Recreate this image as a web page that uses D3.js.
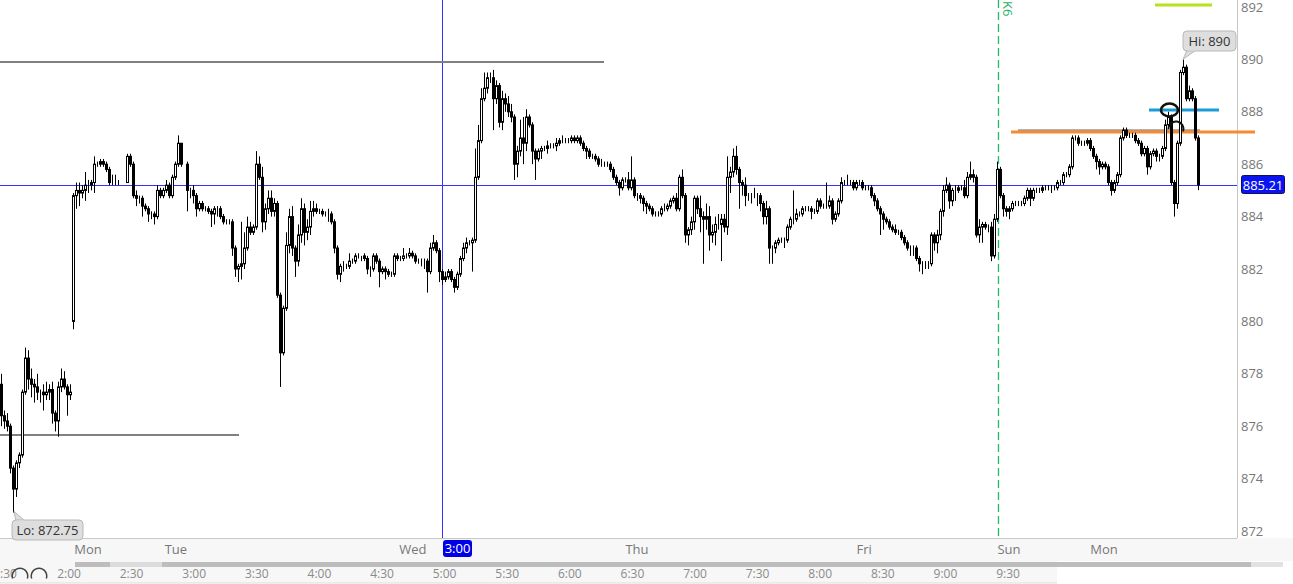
<!DOCTYPE html>
<html>
<head>
<meta charset="utf-8">
<script src="https://cdn.jsdelivr.net/npm/d3@7/dist/d3.min.js"></script>
<style>
  body { margin: 0; background: #fff; }
  svg { display: block; font-family: "Open Sans", sans-serif; }
</style>
</head>
<body>
<svg></svg>
<script>
// closes, one row per 10 bars (open = previous close unless a gap open is given)
const closes = [
  876.4, 876.2, 876.0, 874.4, 873.6, 874.6, 874.9, 877.3, 878.6, 877.8,
  877.6, 877.5, 877.3, 877.3, 877.2, 877.3, 877.4, 876.5, 876.2, 877.5,
  877.8, 877.5, 877.2, 877.3, 884.8, 885.0, 884.9, 885.0, 885.2, 885.2,
  885.3, 886.0, 886.0, 886.1, 886.0, 885.8, 885.3, 885.3, 885.3, 885.3,
  885.3, 885.3, 886.3, 886.0, 884.8, 884.7, 884.7, 884.4, 884.3, 884.1,
  884.1, 884.0, 885.0, 884.8, 885.0, 885.2, 884.8, 885.5, 886.0, 886.8,
  886.0, 886.0, 885.0, 885.0, 884.8, 884.3, 884.5, 884.3, 884.3, 884.2,
  884.1, 884.3, 884.3, 884.0, 883.8, 883.8, 883.8, 882.8, 882.0, 882.1,
  882.2, 882.8, 883.6, 883.4, 883.6, 886.0, 885.5, 883.8, 884.3, 884.7,
  884.2, 884.5, 881.0, 878.8, 880.5, 882.9, 884.0, 882.8, 882.3, 883.3,
  884.3, 883.4, 883.6, 884.2, 884.3, 884.2, 884.2, 884.1, 884.1, 884.1,
  883.8, 882.8, 881.8, 882.1, 882.1, 882.1, 882.3, 882.3, 882.5, 882.5,
  882.5, 882.4, 882.0, 882.0, 882.5, 882.3, 881.9, 882.0, 881.9, 881.8,
  881.8, 882.5, 882.4, 882.4, 882.5, 882.5, 882.6, 882.5, 882.3, 882.3,
  882.3, 882.3, 881.9, 882.8, 883.0, 882.7, 881.9, 881.6, 881.7, 881.9,
  881.6, 881.3, 881.8, 882.4, 882.8, 883.0, 883.0, 883.1, 885.5, 886.9,
  888.5, 888.9, 889.3, 889.3, 888.5, 889.0, 887.6, 888.5, 888.3, 888.0,
  887.8, 886.0, 886.5, 887.0, 886.8, 887.8, 887.5, 886.5, 886.2, 886.5,
  886.6, 886.6, 886.7, 886.7, 886.7, 886.8, 886.9, 886.9, 886.9, 886.9,
  887.0, 886.9, 887.0, 886.8, 886.6, 886.5, 886.3, 886.3, 886.2, 886.0,
  886.0, 886.0, 886.0, 885.8, 885.5, 885.3, 885.1, 885.4, 885.4, 885.1,
  885.4, 884.8, 884.8, 884.7, 884.5, 884.4, 884.3, 884.1, 884.1, 884.1,
  884.3, 884.3, 884.4, 884.6, 884.7, 884.3, 885.5, 884.8, 883.3, 883.5,
  883.8, 884.7, 884.3, 884.0, 883.9, 884.0, 883.3, 883.4, 883.7, 883.7,
  883.9, 883.6, 885.5, 885.7, 886.3, 885.8, 885.3, 885.2, 884.8, 884.8,
  884.8, 884.8, 884.8, 884.5, 884.0, 884.3, 882.8, 882.8, 883.0, 883.1,
  883.1, 883.1, 883.6, 883.9, 883.9, 884.1, 884.1, 884.3, 884.3, 884.3,
  884.2, 884.2, 884.6, 884.4, 884.4, 884.4, 884.6, 883.9, 884.1, 884.6,
  885.3, 885.3, 885.3, 885.3, 885.1, 885.3, 885.3, 885.1, 885.1, 885.1,
  884.8, 884.6, 884.3, 884.1, 883.9, 883.8, 883.6, 883.5, 883.4, 883.4,
  883.2, 883.0, 882.8, 882.8, 882.8, 882.4, 882.2, 882.2, 882.2, 882.2,
  883.3, 883.0, 883.3, 884.2, 885.0, 885.2, 884.6, 885.0, 885.0, 885.1,
  885.1, 884.8, 885.5, 885.6, 885.5, 883.3, 883.6, 883.7, 883.6, 883.6,
  882.5, 883.9, 885.8, 884.8, 884.3, 884.2, 884.3, 884.5, 884.5, 884.5,
  884.5, 884.7, 885.0, 884.7, 885.0, 885.0, 885.0, 885.1, 885.1, 885.1,
  885.1, 885.1, 885.3, 885.3, 885.6, 885.6, 885.9, 887.0, 887.0, 886.8,
  886.8, 886.8, 886.9, 886.6, 886.3, 886.1, 885.9, 886.0, 885.9, 885.3,
  885.0, 885.3, 885.6, 887.0, 887.3, 887.1, 887.1, 887.1, 886.9, 886.8,
  886.4, 886.6, 885.9, 886.4, 886.5, 886.3, 886.3, 886.6, 887.5, 887.8,
  885.3, 884.5, 886.8, 889.5, 889.7, 888.5, 888.8, 888.5, 887.0, 885.21
];

// upper / lower wick beyond the body, in tenths of a point
const wickUp = [
  4,2,3,1,1,1,1,1,4,3,  4,2,5,1,3,4,2,3,1,2,  4,3,1,3,1,3,3,2,5,2,  1,3,1,1,1,1,1,3,3,1,
  0,0,1,1,1,2,1,1,1,1,  1,1,2,1,1,2,1,1,1,3,  0,0,1,1,2,1,1,1,1,1,  1,1,1,1,1,1,1,1,1,1,
  16,6,4,2,1,5,3,4,2,3, 3,2,1,1,1,5,3,4,1,4,  4,2,3,4,3,2,1,1,1,2,  1,1,1,1,2,1,3,1,1,1,
  0,1,1,1,1,1,1,1,1,1,  1,1,1,1,3,1,2,1,1,1,  1,1,1,2,3,1,1,1,2,1,  1,1,1,1,2,2,1,1,11,6,
  4,6,2,2,3,2,1,3,2,3,  3,1,2,7,8,3,1,1,1,1,  1,1,2,1,1,2,1,2,1,1,  1,1,1,1,1,1,1,1,1,1,
  2,1,1,1,1,1,1,1,1,3,  9,1,1,1,1,1,1,1,1,1,  1,2,1,1,1,2,1,3,1,1,  2,1,1,5,2,5,4,3,3,4,
  2,2,8,2,3,4,1,1,3,1,  1,3,1,1,1,3,1,1,1,1,  1,1,1,1,11,2,1,1,1,1, 1,1,1,1,1,9,2,1,1,1,
  2,1,3,1,1,1,1,1,1,1,  1,1,1,1,1,1,1,1,2,1,  1,1,1,1,1,1,1,1,1,1,  1,1,2,1,2,3,1,1,2,1,
  1,3,2,5,2,1,3,1,1,1,  2,2,3,1,1,1,1,1,1,1,  1,1,1,1,1,1,1,1,1,1,  1,1,1,1,1,1,1,1,1,1,
  1,1,1,1,1,1,1,1,1,1,  1,1,1,1,1,1,1,1,1,1,  1,1,1,1,1,1,1,1,2,2,  1,1,1,1,3,1,2,1,1,1
];
const wickDn = [
  4,3,2,2,9,3,2,1,1,4,  5,6,3,4,6,2,3,4,4,6,  2,1,8,2,3,5,5,2,4,3,  2,4,1,1,1,1,1,1,1,1,
  0,0,0,1,1,3,2,4,1,3,  2,3,1,1,1,1,1,1,1,1,  1,0,8,3,3,3,1,1,1,1,  5,4,3,1,1,1,1,3,3,5,
  5,2,1,1,1,1,1,4,3,2,  2,2,1,13,1,1,3,3,6,2, 3,5,3,3,2,1,1,1,1,3,  1,2,2,3,2,1,1,1,1,1,
  2,1,2,3,1,1,6,1,3,1,  1,1,1,1,1,1,1,1,1,1,  2,3,8,1,1,1,4,2,1,1,  1,2,1,1,1,2,1,11,1,1,
  1,1,2,2,12,2,2,3,3,2, 2,6,5,2,8,3,1,5,8,1,  3,1,2,1,1,2,1,1,1,1,  1,1,1,1,1,3,1,1,1,1,
  1,1,1,1,1,1,3,1,1,1,  1,1,2,2,3,3,1,1,1,1,  1,1,1,1,1,1,1,1,3,4,  2,3,2,6,17,4,6,3,5,2,
  14,2,3,6,2,2,10,4,4,2, 3,1,4,3,3,3,6,6,2,1, 1,3,1,1,2,1,1,1,1,1,  3,1,1,1,1,1,1,2,1,1,
  1,1,1,1,1,1,1,1,1,1,  1,2,1,8,4,1,1,1,1,1,  1,1,1,3,3,1,3,4,2,2,  1,3,4,2,2,1,3,2,4,1,
  1,1,1,1,2,1,3,6,1,2,  2,1,1,1,3,2,3,1,1,1,  1,1,1,3,1,1,1,1,1,1,  2,1,1,1,1,1,1,1,1,1,
  1,1,1,1,1,3,3,1,1,1,  2,1,1,1,1,1,1,1,1,1,  1,1,3,1,1,2,2,1,1,1,  1,5,2,1,1,1,1,1,1,2
];

// session gaps: bar index -> open price
const gapOpens = {0: 877.6, 24: 880.0};

const priceTicks = [872, 874, 876, 878, 880, 882, 884, 886, 888, 890, 892];
const dayLabels = ["Mon", "Tue", "Wed", "Thu", "Fri", "Sun", "Mon"];
const dayBars = [29, 58.3, 137.3, 212, 287.7, 336, 367.7];
const navMinutes = [120, 150, 180, 210, 240, 270, 300, 330, 360, 390, 420, 450, 480, 510, 540, 570];

const lastPrice = 885.21;
const hiPrice = 890, loPrice = 872.75;
const crossBar = 147;      // vertical crosshair
const sessionBar = 332.3;  // green dashed session line

// drawn horizontal levels
const levels = [
  {price: 889.9, x0: 0, x1: 604, color: "#808080", w: 2},
  {price: 875.66, x0: 0, x1: 239, color: "#808080", w: 2},
  {price: 887.3, x0: 1018, x1: 1200, color: "#9a9a9a", w: 2},
  {price: 887.23, x0: 1011, x1: 1255, color: "#f58a2e", w: 3},
  {price: 888.07, x0: 1149, x1: 1219, color: "#1b9bd7", w: 3},
  {price: 892.08, x0: 1155, x1: 1212, color: "#b6e21e", w: 3}
];

const width = 1293, height = 584;
const plotRight = 1237, plotBottom = 538;

const svg = d3.select("svg").attr("width", width).attr("height", height);

const x = d3.scaleLinear().domain([0, closes.length - 1]).range([1, 1198]);
const y = d3.scaleLinear().domain([872, 892]).range([531, 7]);
const navX = d3.scaleLinear().domain([90, 570]).range([6.4, 1008]);

const bars = closes.map((c, i) => {
  const o = gapOpens[i] !== undefined ? gapOpens[i] : closes[i - 1];
  return {
    i, o, c,
    h: Math.max(o, c) + wickUp[i] / 10,
    l: Math.min(o, c) - wickDn[i] / 10
  };
});

// bottom day axis band
svg.append("rect").attr("x", 0).attr("y", plotBottom).attr("width", width).attr("height", 23)
  .attr("fill", "#f7f7f7");
// navigator band
svg.append("rect").attr("x", 0).attr("y", 561).attr("width", 1057).attr("height", 22)
  .attr("fill", "#f7f7f7");
svg.append("line").attr("x1", 0).attr("x2", 1057).attr("y1", 583).attr("y2", 583)
  .attr("stroke", "#dddddd");
svg.append("rect").attr("x", 75).attr("y", 562).attr("width", 1176).attr("height", 5).attr("fill", "#bdbdbd");
svg.append("rect").attr("x", 110).attr("y", 562).attr("width", 52).attr("height", 5).attr("fill", "#dcdcdc");
svg.append("rect").attr("x", 1251).attr("y", 562).attr("width", 32).attr("height", 5).attr("fill", "#e2e2e2");

// plot borders
svg.append("line").attr("x1", 0).attr("x2", plotRight).attr("y1", plotBottom + 0.5).attr("y2", plotBottom + 0.5)
  .attr("stroke", "#c8c8c8");
svg.append("line").attr("x1", plotRight + 0.5).attr("x2", plotRight + 0.5).attr("y1", 0).attr("y2", plotBottom)
  .attr("stroke", "#c8c8c8");

// price axis
const yAxis = d3.axisRight(y).tickValues(priceTicks).tickSize(0).tickPadding(4).tickFormat(d3.format("d"));
const ya = svg.append("g").attr("transform", `translate(${plotRight},0)`).call(yAxis);
ya.select(".domain").remove();
ya.selectAll("text").attr("fill", "#777").style("font-size", "13px").style("font-family", "'Open Sans', sans-serif");

// day labels
svg.selectAll(".day").data(dayLabels).enter().append("text")
  .attr("x", (d, i) => x(dayBars[i]))
  .attr("y", 554)
  .attr("text-anchor", "middle")
  .attr("fill", "#777")
  .style("font-size", "13px")
  .text(d => d);

// navigator time labels
svg.selectAll(".nav").data(navMinutes).enter().append("text")
  .attr("x", m => navX(m))
  .attr("y", 578)
  .attr("text-anchor", "middle")
  .attr("fill", "#8a8a8a")
  .style("font-size", "12px")
  .text(m => `${Math.floor(m / 60)}:${m % 60 === 0 ? "00" : "30"}`);

// left end of the navigator: clipped ":30" label and two round icons
svg.append("text").attr("x", 0).attr("y", 578).attr("fill", "#8a8a8a")
  .style("font-size", "12px").text(":30");
svg.append("path").attr("d", d3.arc()({innerRadius: 7, outerRadius: 8.5, startAngle: -1.9, endAngle: 1.9}))
  .attr("transform", "translate(20,576)").attr("fill", "#444");
svg.append("path").attr("d", d3.arc()({innerRadius: 7, outerRadius: 8.5, startAngle: -1.9, endAngle: 1.9}))
  .attr("transform", "translate(39,576)").attr("fill", "#444");

// crosshair
svg.append("line").attr("x1", 0).attr("x2", plotRight).attr("y1", Math.round(y(lastPrice)) + 0.5).attr("y2", Math.round(y(lastPrice)) + 0.5)
  .attr("stroke", "#3434ff").attr("stroke-width", 1);
svg.append("line").attr("x1", Math.round(x(crossBar)) + 0.5).attr("x2", Math.round(x(crossBar)) + 0.5).attr("y1", 0).attr("y2", plotBottom)
  .attr("stroke", "#3434ff").attr("stroke-width", 1);

// session line + label
const sx = Math.round(x(sessionBar)) + 0.5;
svg.append("line").attr("x1", sx).attr("x2", sx).attr("y1", 0).attr("y2", plotBottom)
  .attr("stroke", "#22b86a").attr("stroke-width", 1.3).attr("stroke-dasharray", "8,4");
svg.append("text").attr("transform", `translate(${sx + 4},1) rotate(90)`)
  .attr("fill", "#2db36b").style("font-size", "13px").text("K6");

// levels
svg.selectAll(".level").data(levels).enter().append("line")
  .attr("x1", d => d.x0).attr("x2", d => d.x1)
  .attr("y1", d => y(d.price)).attr("y2", d => y(d.price))
  .attr("stroke", d => d.color).attr("stroke-width", d => d.w);

// candles
const g = svg.append("g");
const candle = g.selectAll("g.c").data(bars).enter().append("g");
candle.append("line")
  .attr("x1", d => Math.round(x(d.i)) + 0.5)
  .attr("x2", d => Math.round(x(d.i)) + 0.5)
  .attr("y1", d => y(d.h))
  .attr("y2", d => y(d.l))
  .attr("stroke", "#000").attr("stroke-width", 1);
candle.append("rect")
  .attr("x", d => Math.round(x(d.i)) - 0.5)
  .attr("width", 2)
  .attr("y", d => y(Math.max(d.o, d.c)))
  .attr("height", d => Math.abs(y(d.o) - y(d.c)))
  .attr("fill", d => d.c >= d.o ? "#fff" : "#000")
  .attr("stroke", "#000").attr("stroke-width", 1);

// drawing circles near the high
svg.append("ellipse").attr("cx", 1169.5).attr("cy", 110).attr("rx", 8.5).attr("ry", 6.5)
  .attr("fill", "none").attr("stroke", "#111").attr("stroke-width", 2.5);
svg.append("path").attr("d", d3.arc()({innerRadius: 6.5, outerRadius: 8.5, startAngle: -1.6, endAngle: 1.9}))
  .attr("transform", "translate(1176,129)").attr("fill", "#111");

// Hi / Lo call-outs
function callout(bx, by, bw, bh, tipX, tipY, baseX, label) {
  const up = tipY < by;
  svg.append("path")
    .attr("d", `M${baseX - 4},${by + (up ? 1 : bh - 1)} L${tipX},${tipY} L${baseX + 5},${by + (up ? 1 : bh - 1)}`)
    .attr("fill", "#dedede").attr("stroke", "#b8b8b8");
  svg.append("rect").attr("x", bx).attr("y", by).attr("width", bw).attr("height", bh).attr("rx", 4)
    .attr("fill", "#dedede").attr("stroke", "#b8b8b8");
  svg.append("path")
    .attr("d", `M${baseX - 3},${by + (up ? 1.5 : bh - 1.5)} L${baseX + 4},${by + (up ? 1.5 : bh - 1.5)}`)
    .attr("stroke", "#dedede").attr("stroke-width", 2);
  svg.append("text").attr("x", bx + bw / 2).attr("y", by + bh / 2 + 4.5).attr("text-anchor", "middle")
    .attr("fill", "#333").style("font-size", "13px").text(label);
}
const hiBar = bars.reduce((a, b) => b.h > a.h ? b : a);
const loBar = bars.reduce((a, b) => b.l < a.l ? b : a);
callout(1183, 31, 53, 20, Math.round(x(hiBar.i)), y(hiPrice), 1191, `Hi: ${hiPrice}`);
callout(12, 520, 71, 20, Math.round(x(loBar.i)) + 1, y(loPrice), 20, `Lo: ${loPrice}`);

// last price tag
svg.append("rect").attr("x", 1241.5).attr("y", Math.round(y(lastPrice)) - 9.5).attr("width", 43).attr("height", 18).attr("rx", 2)
  .attr("fill", "#0a14f0").attr("stroke", "#10105a");
svg.append("text").attr("x", 1263).attr("y", Math.round(y(lastPrice)) + 5).attr("text-anchor", "middle")
  .attr("fill", "#fff").style("font-size", "13px").text(lastPrice.toFixed(2));

// crosshair time tag
svg.append("rect").attr("x", Math.round(x(crossBar)) + 1).attr("y", 540).attr("width", 29).attr("height", 17).attr("rx", 3)
  .attr("fill", "#0000e8");
svg.append("text").attr("x", Math.round(x(crossBar)) + 15.5).attr("y", 553).attr("text-anchor", "middle")
  .attr("fill", "#fff").style("font-size", "13px").text("3:00");
</script>
</body>
</html>
